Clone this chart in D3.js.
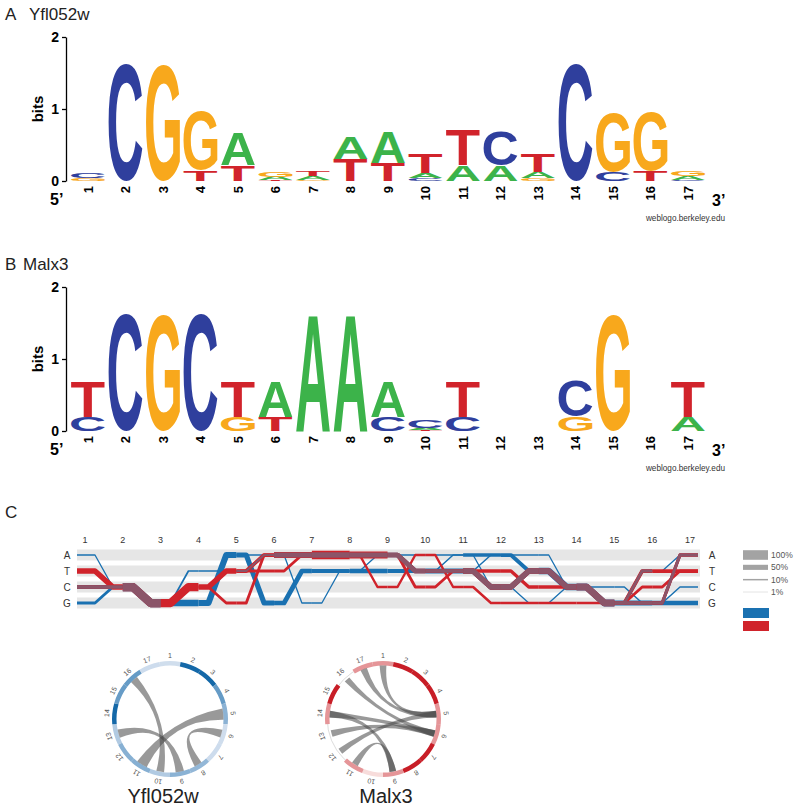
<!DOCTYPE html>
<html>
<head>
<meta charset="utf-8">
<script src="https://cdn.jsdelivr.net/npm/d3@7"></script>
<style>
  body { margin: 0; background: #fff; }
  text { font-family: 'Liberation Sans', Arial, Helvetica, sans-serif; }
</style>
</head>
<body>
<svg id="fig" width="800" height="810"></svg>
<script>
// Sequence logo stacks, one per position, [base, bits] from bottom to top.
var yflLogo = [
  [['G',0.04],['C',0.08]],
  [['C',1.62]],
  [['G',1.62]],
  [['T',0.15],['G',0.82]],
  [['T',0.22],['A',0.45]],
  [['T',0.01],['A',0.05],['G',0.07]],
  [['G',0.02],['A',0.05],['T',0.07]],
  [['T',0.30],['A',0.31]],
  [['T',0.25],['A',0.43]],
  [['C',0.04],['A',0.07],['T',0.26]],
  [['A',0.22],['T',0.49]],
  [['A',0.22],['C',0.48]],
  [['G',0.04],['A',0.08],['T',0.25]],
  [['C',1.62]],
  [['C',0.13],['G',0.83]],
  [['T',0.14],['G',0.83]],
  [['C',0.02],['A',0.05],['G',0.07]]
];
var malxLogo = [
  [['C',0.20],['T',0.49]],
  [['C',1.62]],
  [['G',1.62]],
  [['C',1.62]],
  [['G',0.20],['T',0.49]],
  [['T',0.20],['A',0.49]],
  [['A',1.62]],
  [['A',1.62]],
  [['C',0.20],['A',0.49]],
  [['T',0.01],['A',0.03],['C',0.10]],
  [['C',0.20],['T',0.49]],
  [],
  [],
  [['G',0.20],['C',0.49]],
  [['G',1.62]],
  [],
  [['A',0.20],['T',0.49]]
];
var positions = d3.range(1, 18);
var bases = ['A','T','C','G'];
var bitTicks = [0, 1, 2];

// Transitions between adjacent positions: [position, base here, base at next position, percent].
var yflEdges = [
  [1,'A','C',8],[1,'C','C',40],[1,'G','C',25],
  [2,'C','G',85],
  [3,'G','G',65],[3,'G','T',12],
  [4,'G','A',62],[4,'T','T',12],
  [5,'A','G',50],[5,'A','A',10],[5,'T','A',15],
  [6,'G','T',45],[6,'A','G',8],[6,'A','A',50],
  [7,'T','T',40],[7,'G','T',8],[7,'A','A',55],
  [8,'T','T',42],[8,'A','A',50],[8,'T','A',8],
  [9,'T','T',40],[9,'A','T',45],[9,'A','A',8],
  [10,'T','T',50],[10,'T','A',10],[10,'A','A',8],
  [11,'T','C',55],[11,'A','A',30],[11,'T','A',10],[11,'A','C',8],
  [12,'C','T',55],[12,'A','T',35],[12,'A','A',8],[12,'C','G',8],
  [13,'T','C',65],[13,'A','C',8],[13,'G','C',8],
  [14,'C','G',70],[14,'C','C',12],
  [15,'G','T',25],[15,'G','G',50],[15,'C','G',10],
  [16,'G','A',25],[16,'G','G',45],[16,'G','C',10],[16,'T','A',8]
];
var malxEdges = [
  [1,'T','C',55],[1,'C','C',30],
  [2,'C','G',85],
  [3,'G','C',85],
  [4,'C','T',55],[4,'C','G',25],
  [5,'T','A',35],[5,'G','A',25],[5,'T','T',25],
  [6,'A','A',60],[6,'T','A',25],
  [7,'A','A',90],
  [8,'A','A',70],[8,'A','C',20],
  [9,'A','T',45],[9,'A','C',25],[9,'C','A',20],
  [10,'T','T',30],[10,'A','C',20],[10,'C','T',25],
  [11,'T','C',55],[11,'T','T',30],[11,'C','G',20],
  [12,'C','T',55],[12,'T','C',30],[12,'G','G',20],
  [13,'T','C',55],[13,'C','C',30],[13,'G','G',20],
  [14,'C','G',65],[14,'G','G',20],
  [15,'G','T',35],[15,'G','G',30],[15,'G','C',25],
  [16,'G','A',30],[16,'T','T',35],[16,'C','T',25]
];
var legendPercents = [100, 50, 10, 1];
var legendLabels = ['100%', '50%', '10%', '1%'];

// Co-varying position pairs: [position, position, strength].
var yflChords = [[16,10,0.7],[5,11,1.0],[13,9,0.75],[6,8,0.7]];
var malxChords = [[17,5,0.6],[1,5,0.6],[16,6,0.55],[14,6,0.6],[14,9,0.6],[13,6,0.6],[12,5,0.55],[11,9,0.6]];

var baseColor = {A:'#3cb34a', C:'#2f3f9d', G:'#f8a81c', T:'#d1232b'};
var blue = '#1a71b1', red = '#d0232b', mauve = '#8b5569';

var svg = d3.select('#fig');

// 0. Ink metrics of the letters so they can be stretched to fill a box.
var ctx = document.createElement('canvas').getContext('2d');
ctx.font = 'bold 100px "Liberation Sans"';
var glyph = {};
'ACGT'.split('').forEach(function (ch) {
  var m = ctx.measureText(ch);
  if (m.actualBoundingBoxAscent > 0) {
    glyph[ch] = {left: -m.actualBoundingBoxLeft, right: m.actualBoundingBoxRight,
                 asc: m.actualBoundingBoxAscent, desc: m.actualBoundingBoxDescent};
  } else {
    glyph[ch] = {left: 4, right: 68, asc: 72, desc: 1};
  }
});

// 1. Sequence logos.
function drawLogo(stacks, letter, name, nameX, yOff) {
  var x = d3.scaleLinear().domain([1, 17]).range([88, 688]);
  var y = d3.scaleLinear().domain([0, 2]).range([181 + yOff, 37 + yOff]);
  var letterW = 34;
  var g = svg.append('g');

  g.append('text').attr('x', 5).attr('y', 20 + yOff).attr('font-size', 17).attr('fill', '#222').text(letter);
  g.append('text').attr('x', nameX).attr('y', 20 + yOff).attr('font-size', 17).attr('fill', '#222').text(name);

  var letters = [];
  stacks.forEach(function (stack, i) {
    var cum = 0;
    stack.forEach(function (s) {
      letters.push({pos: i + 1, base: s[0], lo: cum, hi: cum + s[1]});
      cum += s[1];
    });
  });

  g.selectAll('text.letter').data(letters)
    .enter().append('text')
    .attr('class', 'letter')
    .attr('font-size', 100)
    .attr('font-weight', 'bold')
    .attr('fill', function (d) { return baseColor[d.base]; })
    .attr('transform', function (d) {
      var gm = glyph[d.base];
      var sx = letterW / (gm.right - gm.left);
      var sy = (y(d.lo) - y(d.hi)) / (gm.asc + gm.desc);
      return 'translate(' + (x(d.pos) - letterW / 2 - gm.left * sx) + ',' + (y(d.lo) - gm.desc * sy) +
             ') scale(' + sx + ',' + sy + ')';
    })
    .text(function (d) { return d.base; });

  var axis = d3.axisLeft(y).tickValues(bitTicks).tickFormat(d3.format('d'))
    .tickSize(4).tickSizeOuter(0).tickPadding(3);
  var ag = g.append('g').attr('transform', 'translate(66,0)').call(axis);
  ag.selectAll('path,line').attr('stroke', '#000').attr('stroke-width', 1.3);
  ag.selectAll('text').attr('font-size', 14).attr('font-weight', 'bold').attr('fill', '#000')
    .attr('font-family', "'Liberation Sans', Arial, sans-serif");

  g.append('text')
    .attr('transform', 'translate(43,' + (109 + yOff) + ') rotate(-90)')
    .attr('text-anchor', 'middle').attr('font-size', 15).attr('font-weight', 'bold')
    .text('bits');

  g.selectAll('text.pos').data(positions)
    .enter().append('text')
    .attr('class', 'pos')
    .attr('transform', function (d) { return 'translate(' + x(d) + ',' + (186 + yOff) + ') rotate(-90)'; })
    .attr('text-anchor', 'end').attr('dy', '0.35em')
    .attr('font-size', 13).attr('font-weight', 'bold')
    .text(function (d) { return d; });

  g.append('text').attr('x', 50).attr('y', 205 + yOff).attr('font-size', 16).attr('font-weight', 'bold').text('5\u2019');
  g.append('text').attr('x', 712).attr('y', 206 + yOff).attr('font-size', 16).attr('font-weight', 'bold').text('3\u2019');
  g.append('text').attr('x', 725).attr('y', 221 + yOff).attr('text-anchor', 'end')
    .attr('font-size', 8.2).attr('fill', '#333').text('weblogo.berkeley.edu');
}

drawLogo(yflLogo, 'A', 'Yfl052w', 29, 0);
drawLogo(malxLogo, 'B', 'Malx3', 23, 250);

// 2. Parallel base-flow chart.
svg.append('text').attr('x', 5).attr('y', 518).attr('font-size', 17).attr('fill', '#222').text('C');

var px = d3.scaleLinear().domain([1, 17]).range([85, 690]);
var py = d3.scalePoint().domain(bases).range([555, 603]);
var wScale = d3.scaleLinear().domain([0, 100]).range([0.6, 9.6]);
var flat = 10;

svg.selectAll('rect.band').data(bases)
  .enter().append('rect')
  .attr('class', 'band')
  .attr('x', 77).attr('width', 623)
  .attr('y', function (d) { return py(d) - 5.5; }).attr('height', 11)
  .attr('fill', '#e6e6e6');

svg.selectAll('text.rowL').data(bases)
  .enter().append('text').attr('class', 'rowL')
  .attr('x', 67).attr('y', function (d) { return py(d) + 3.5; })
  .attr('text-anchor', 'middle').attr('font-size', 10).attr('fill', '#333')
  .text(function (d) { return d; });
svg.selectAll('text.rowR').data(bases)
  .enter().append('text').attr('class', 'rowR')
  .attr('x', 712).attr('y', function (d) { return py(d) + 3.5; })
  .attr('text-anchor', 'middle').attr('font-size', 10).attr('fill', '#333')
  .text(function (d) { return d; });
svg.selectAll('text.colL').data(positions)
  .enter().append('text').attr('class', 'colL')
  .attr('x', function (d) { return px(d); }).attr('y', 543)
  .attr('text-anchor', 'middle').attr('font-size', 9).attr('fill', '#333')
  .text(function (d) { return d; });

var line = d3.line();
function edgePath(e) {
  var x0 = px(e[0]), x1 = px(e[0] + 1), y0 = py(e[1]), y1 = py(e[2]);
  var start = e[0] === 1 ? x0 - 8 : x0;
  var end = e[0] === 16 ? x1 + 8 : x1;
  return line([[start, y0], [x0 + flat, y0], [x1 - flat, y1], [end, y1]]);
}
function key(e) { return e[0] + e[1] + e[2]; }

var malxMap = {};
malxEdges.forEach(function (e) { malxMap[key(e)] = e[3]; });
var sharedEdges = yflEdges.filter(function (e) { return malxMap[key(e)] !== undefined; })
  .map(function (e) { return [e[0], e[1], e[2], Math.min(e[3], malxMap[key(e)])]; });

function drawEdges(edges, color, cls) {
  var sorted = edges.slice().sort(function (a, b) { return b[3] - a[3]; });
  svg.selectAll('path.' + cls).data(sorted)
    .enter().append('path')
    .attr('class', cls)
    .attr('d', edgePath)
    .attr('fill', 'none')
    .attr('stroke', color)
    .attr('stroke-width', function (e) { return wScale(e[3]); })
    .attr('stroke-linejoin', 'round');
}
drawEdges(yflEdges, blue, 'yfl');
drawEdges(malxEdges, red, 'malx');
drawEdges(sharedEdges, mauve, 'shared');

// 2.1 Legend.
var legY = d3.scalePoint().domain(legendPercents).range([555, 592]);
svg.selectAll('line.leg').data(legendPercents)
  .enter().append('line').attr('class', 'leg')
  .attr('x1', 743).attr('x2', 768)
  .attr('y1', function (d) { return legY(d); }).attr('y2', function (d) { return legY(d); })
  .attr('stroke', function (d) { return d === 1 ? '#d8d8d8' : '#a3a3a3'; })
  .attr('stroke-width', function (d) { return wScale(d); });
svg.selectAll('text.leg').data(legendPercents)
  .enter().append('text').attr('class', 'leg')
  .attr('x', 771).attr('y', function (d) { return legY(d) + 3; })
  .attr('font-size', 8.5).attr('fill', '#555')
  .text(function (d, i) { return legendLabels[i]; });
svg.append('rect').attr('x', 743).attr('y', 608).attr('width', 26).attr('height', 10).attr('fill', blue);
svg.append('rect').attr('x', 743).attr('y', 621).attr('width', 26).attr('height', 10).attr('fill', red);

// 3. Circular co-variation diagrams.
function drawCircle(cx, cy, stacks, chords, lo, hi, name, nameX) {
  var ic = stacks.map(function (s) { return d3.sum(s, function (d) { return d[1]; }); });
  var ang = d3.scaleLinear().domain([1, 18]).range([0, 2 * Math.PI]);
  var color = d3.scaleLinear().domain([0, 1.62]).range([lo, hi]);
  var half = Math.PI / 17;
  var rIn = 53.5, rOut = 58;
  var half2 = d3.scaleLinear().domain([0, 1]).range([0, 0.105]);
  var g = svg.append('g').attr('transform', 'translate(' + cx + ',' + cy + ')');

  g.append('circle').attr('r', (rIn + rOut) / 2).attr('fill', 'none')
    .attr('stroke', '#c4c4c4').attr('stroke-width', 0.6);

  var arc = d3.arc().innerRadius(rIn).outerRadius(rOut);
  g.selectAll('path.seg').data(ic)
    .enter().append('path').attr('class', 'seg')
    .attr('d', function (v, i) { return arc({startAngle: ang(i + 1) - half, endAngle: ang(i + 1) + half}); })
    .attr('fill', function (v) { return v > 0.005 ? color(v) : 'none'; });

  var ribbon = d3.ribbon().radius(rIn);
  g.selectAll('path.chord').data(chords)
    .enter().append('path').attr('class', 'chord')
    .attr('d', function (c) {
      var w = half2(c[2]);
      return ribbon({source: {startAngle: ang(c[0]) - w, endAngle: ang(c[0]) + w},
                     target: {startAngle: ang(c[1]) - w, endAngle: ang(c[1]) + w}});
    })
    .attr('fill', '#454545').attr('fill-opacity', 0.55);

  g.selectAll('text.lab').data(positions)
    .enter().append('text').attr('class', 'lab')
    .attr('transform', function (d) { return 'rotate(' + (ang(d) * 180 / Math.PI) + ') translate(0,-61)'; })
    .attr('text-anchor', 'middle').attr('font-size', 7).attr('fill', '#555')
    .text(function (d) { return d; });

  svg.append('text').attr('x', nameX).attr('y', 803).attr('text-anchor', 'middle')
    .attr('font-size', 20).attr('fill', '#222').text(name);
}

drawCircle(170, 719, yflLogo, yflChords, '#dfe7f3', '#1468a8', 'Yfl052w', 163);
drawCircle(383, 719, malxLogo, malxChords, '#fbeeec', '#c81e27', 'Malx3', 386);
</script>
</body>
</html>
